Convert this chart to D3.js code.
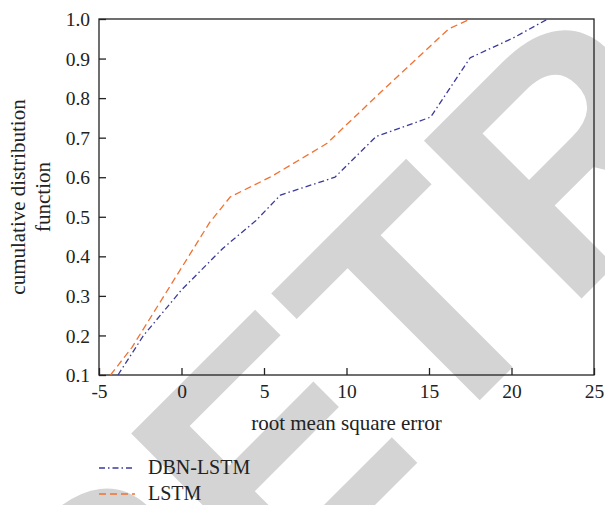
<!DOCTYPE html>
<html>
<head>
<meta charset="utf-8">
<script src="https://cdn.jsdelivr.net/npm/d3@7"></script>
<style>
  body { margin: 0; background: #fff; }
  svg text { font-family: "Liberation Serif", "Times New Roman", serif; fill: #222; }
</style>
</head>
<body>
<svg id="chart" width="605" height="505"></svg>
<script>
// series: [rmse, cdf]
const dbnLstm = [[-3.85, 0.1], [-2.3, 0.2], [0, 0.315], [2.5, 0.42], [4.5, 0.49], [6, 0.555],
  [9.3, 0.6], [11.8, 0.703], [15.1, 0.752], [17.5, 0.902], [20.1, 0.952], [22.2, 1.0]];
const lstm = [[-4.3, 0.1], [-3, 0.17], [1.7, 0.485], [2.95, 0.55], [5.5, 0.603],
  [8.8, 0.685], [12.2, 0.82], [16.2, 0.975], [17.5, 1.0]];
const xTicks = [-5, 0, 5, 10, 15, 20, 25];
const yTicks = [0.1, 0.2, 0.3, 0.4, 0.5, 0.6, 0.7, 0.8, 0.9, 1.0];
const seriesNames = ["DBN-LSTM", "LSTM"];
const watermark = "RETRACTED";

const plotL = 99, plotR = 594, plotT = 19, plotB = 375;
const ink = "#222";

const svg = d3.select("#chart");

// watermark goes under everything
svg.append("text")
	.attr("transform", "translate(108,772) rotate(-45)")
	.style("font-family", "'Liberation Sans', Arial, sans-serif")
	.style("font-weight", "bold")
	.style("font-size", "324px")
	.style("fill", "#d4d4d4")
	.text(watermark);

const x = d3.scaleLinear().domain([-5, 25]).range([plotL, plotR]);
const y = d3.scaleLinear().domain([0.1, 1.0]).range([plotB, plotT]);

// frame
svg.append("rect")
	.attr("x", plotL).attr("y", plotT)
	.attr("width", plotR - plotL).attr("height", plotB - plotT)
	.attr("fill", "none").attr("stroke", ink).attr("stroke-width", 1.3);

const xAxis = svg.append("g")
	.attr("transform", `translate(0,${plotB})`)
	.call(d3.axisBottom(x).tickValues(xTicks).tickSize(-7).tickFormat(d => String(d)));
const yAxis = svg.append("g")
	.attr("transform", `translate(${plotL},0)`)
	.call(d3.axisLeft(y).tickValues(yTicks).tickSize(-7).tickFormat(d => d.toFixed(1)));

[xAxis, yAxis].forEach(g => {
	g.attr("font-family", null).attr("font-size", null);
	g.select(".domain").remove();
	g.selectAll(".tick line").attr("stroke", ink).attr("stroke-width", 1.3);
	g.selectAll(".tick text")
		.style("font-family", "'Liberation Serif', serif")
		.style("font-size", "19.5px")
		.attr("fill", ink);
});
xAxis.selectAll(".tick text").attr("y", 9).attr("dy", "0.71em");
yAxis.selectAll(".tick text").attr("x", -9).attr("dy", "0.34em");

// axis titles
svg.append("text")
	.attr("x", (plotL + plotR) / 2).attr("y", 430)
	.attr("text-anchor", "middle")
	.style("font-size", "21px")
	.text("root mean square error");

const yTitle = svg.append("text")
	.attr("transform", `translate(25,${(plotT + plotB) / 2}) rotate(-90)`)
	.attr("text-anchor", "middle")
	.style("font-size", "21px");
yTitle.append("tspan").attr("x", 0).attr("y", 0).text("cumulative distribution");
yTitle.append("tspan").attr("x", 0).attr("y", 25).text("function");

// lines
const line = d3.line().x(d => x(d[0])).y(d => y(d[1]));
const styles = [
	{ color: "#3b3a9c", dash: "6,3,1.5,3" },
	{ color: "#f07232", dash: "7,4" }
];
[dbnLstm, lstm].forEach((data, i) => {
	svg.append("path")
		.datum(data)
		.attr("d", line)
		.attr("fill", "none")
		.attr("stroke", styles[i].color)
		.attr("stroke-width", 1.3)
		.attr("stroke-dasharray", styles[i].dash);
});

// legend
const legend = svg.append("g");
seriesNames.forEach((name, i) => {
	const ly = 468 + i * 26;
	legend.append("line")
		.attr("x1", 99).attr("x2", 135).attr("y1", ly).attr("y2", ly)
		.attr("stroke", styles[i].color).attr("stroke-width", 1.3)
		.attr("stroke-dasharray", styles[i].dash);
	legend.append("text")
		.attr("x", 148).attr("y", ly + 6)
		.style("font-size", "20px")
		.text(name);
});
</script>
</body>
</html>
